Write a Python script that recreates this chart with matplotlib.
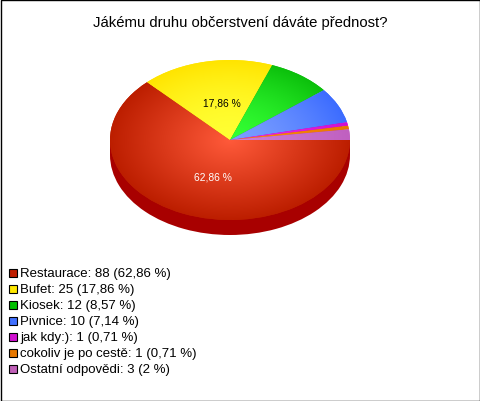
import numpy as np
import matplotlib
matplotlib.use('Agg')
import matplotlib.pyplot as plt
from matplotlib.colors import LinearSegmentedColormap
from matplotlib.patches import Rectangle

plt.rcParams['font.family'] = ['Liberation Sans', 'DejaVu Sans']

W, H = 480, 402

title = 'Jákému druhu občerstvení dáváte přednost?'
categories = ['Restaurace', 'Bufet', 'Kiosek', 'Pivnice', 'jak kdy:)', 'cokoliv je po cestě', 'Ostatní odpovědi']
counts = [88, 25, 12, 10, 1, 1, 3]
shares = ['62,86 %', '17,86 %', '8,57 %', '7,14 %', '0,71 %', '0,71 %', '2 %']
inner_colors = ['#FF5A3A', '#FFFF33', '#33FF33', '#7A9EFF', '#F030F0', '#FF9010', '#D080D8']
outer_colors = ['#BC1E00', '#FFE400', '#0CC00C', '#3C6CFF', '#D010D0', '#E87800', '#C060C0']
shade_power = [1.0, 1.8, 1.5, 1.5, 1.0, 1.0, 1.0]
legend_colors = ['#C01E00', '#FFE800', '#00C000', '#4070FF', '#D010D0', '#E87800', '#C060B8']
side_color = '#A80000'


def px_box(left, top, right, bottom):
    return [left / W, (H - bottom) / H, (right - left) / W, (bottom - top) / H]


fig = plt.figure(figsize=(W / 100, H / 100), dpi=100, facecolor='white')
fig.add_artist(Rectangle((0.5 / W, 0.5 / H), (W - 1) / W, (H - 1) / H, transform=fig.transFigure,
                         facecolor='none', edgecolor='black', linewidth=1))

# pie box: 120 px wide radius, 80 px high radius, centre at (230, 140)
ax = fig.add_axes(px_box(104, 57, 356, 245))
depth = 15 / 80

# side wall first, then the top of the pie over it
ax.pie([1], colors=[side_color], radius=1, center=(0, -depth))
ax.add_patch(Rectangle((-1, -depth), 2, depth, facecolor=side_color, edgecolor='none'))
wedges, _ = ax.pie(counts, colors=outer_colors, radius=1, startangle=0, counterclock=False, center=(0, 0))

# radial shading inside every slice
xx, yy = np.meshgrid(np.linspace(-1, 1, 500), np.linspace(-1, 1, 500))
rr = np.clip(np.hypot(xx, yy), 0, 1)
for wedge, c_in, c_out, power in zip(wedges, inner_colors, outer_colors, shade_power):
    cmap = LinearSegmentedColormap.from_list('shade', [c_in, c_out])
    im = ax.imshow(rr ** power, cmap=cmap, vmin=0, vmax=1, extent=(-1, 1, -1, 1), origin='lower',
                   aspect='auto', zorder=wedge.get_zorder() + 0.5)
    im.set_clip_path(wedge)

ax.set_aspect('auto')
ax.set_xlim(-1.05, 1.05)
ax.set_ylim(-1.3, 1.05)
ax.axis('off')

ax.text(-0.142, -0.4625, shares[0], color='white', fontsize=7.4, ha='center', va='center', zorder=5)
ax.text(-0.067, 0.475, shares[1], color='black', fontsize=7.4, ha='center', va='center', zorder=5)

fig.text(240 / W, 1 - 22.5 / H, title, fontsize=10.7, ha='center', va='center', color='black')

for i, (cat, n, share, col) in enumerate(zip(categories, counts, shares, legend_colors)):
    y = 274.5 + 16 * i
    fig.add_artist(Rectangle((8.5 / W, 1 - (y + 3.5) / H), 8 / W, 8 / H, transform=fig.transFigure,
                             facecolor=col, edgecolor='black', linewidth=0.8))
    fig.text(20 / W, 1 - y / H, f'{cat}: {n} ({share})', fontsize=9.55, ha='left', va='center', color='black')

fig.savefig('out.png', dpi=100)
